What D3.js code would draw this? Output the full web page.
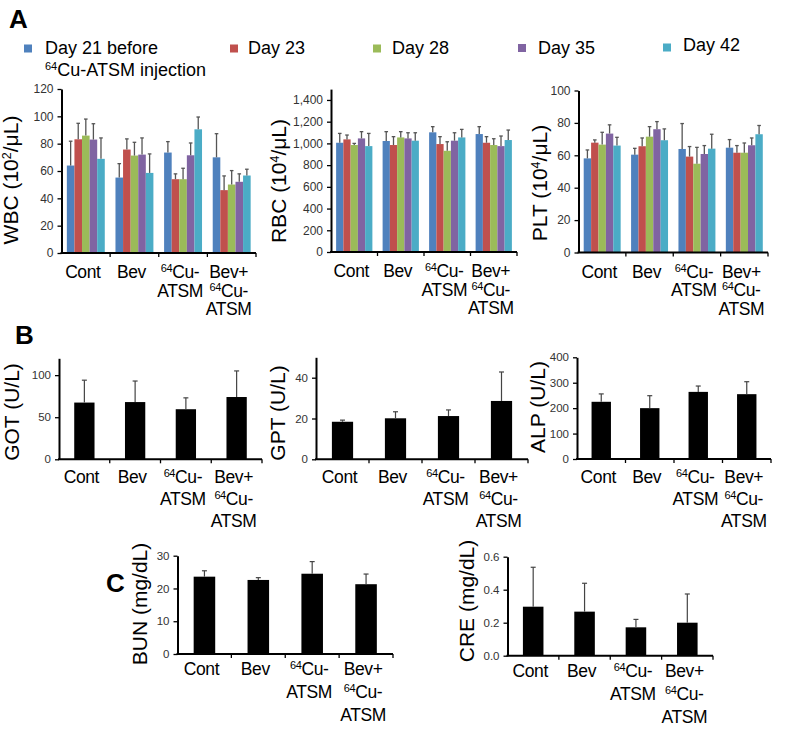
<!DOCTYPE html>
<html>
<head>
<meta charset="utf-8">
<script src="https://cdn.jsdelivr.net/npm/d3@7"></script>
<style>
  html, body { margin: 0; padding: 0; background: #fff; }
  svg { display: block; font-family: Arial, "Liberation Sans", sans-serif; }
</style>
</head>
<body>
<svg id="chart" width="797" height="729"></svg>
<script>
// ---------------- DATA ----------------
const groups = ["Cont", "Bev", "64Cu-ATSM", "Bev+64Cu-ATSM"];
// label lines; {..} marks superscript
const groupLabelLines = [["Cont"], ["Bev"], ["{64}Cu-", "ATSM"], ["Bev+", "{64}Cu-", "ATSM"]];
const days = ["Day 21 before 64Cu-ATSM injection", "Day 23", "Day 28", "Day 35", "Day 42"];
const dayColors = ["#4F81BD", "#C0504D", "#9BBB59", "#8064A2", "#4BACC6"];

// Panel A: rows = groups, columns = days
const wbcMean = [[64.0, 83.2, 85.9, 83.0, 68.9], [55.2, 75.7, 71.3, 72.0, 58.6], [73.5, 54.0, 54.0, 71.5, 90.5], [70.0, 46.0, 50.1, 52.1, 56.7]];
const wbcErr  = [[17.8, 11.7, 12.1, 11.6, 15.3], [10.2, 7.8, 9.7, 12.2, 13.9], [8.0, 3.9, 8.0, 9.0, 9.0], [17.3, 10.4, 10.2, 5.8, 4.6]];
const rbcMean = [[1006, 1037, 985, 1046, 975], [1022, 985, 1055, 1046, 1025], [1102, 994, 932, 1025, 1055], [1086, 1006, 985, 975, 1031]];
const rbcErr  = [[86, 40, 15, 62, 117], [86, 77, 53, 52, 73], [52, 68, 83, 73, 74], [68, 56, 58, 93, 92]];
const pltMean = [[58.1, 67.8, 66.6, 73.4, 66.0], [60.4, 65.6, 71.5, 76.1, 69.3], [63.9, 59.2, 54.8, 60.8, 64.1], [64.7, 61.6, 61.6, 66.2, 73.0]];
const pltErr  = [[5.2, 1.7, 7.6, 5.4, 5.1], [3.9, 5.1, 6.2, 4.7, 7.0], [15.7, 6.2, 10.1, 5.2, 8.9], [5.0, 4.4, 6.0, 4.5, 5.4]];

// Panel B
const gotMean = [67.4, 68.0, 59.5, 74.0];
const gotErr  = [26.6, 25.0, 13.5, 31.0];
const gptMean = [18.4, 20.1, 21.2, 28.6];
const gptErr  = [0.8, 3.2, 3.0, 14.2];
const alpMean = [225, 200, 264, 255];
const alpErr  = [31, 49, 23, 49];
// Panel C
const bunMean = [23.6, 22.6, 24.5, 21.3];
const bunErr  = [1.8, 0.7, 3.7, 3.1];
const creMean = [0.297, 0.267, 0.172, 0.200];
const creErr  = [0.239, 0.172, 0.048, 0.174];

// Tick values
const wbcTicks = [0, 20, 40, 60, 80, 100, 120];
const rbcTicks = [0, 200, 400, 600, 800, 1000, 1200, 1400];
const pltTicks = [0, 20, 40, 60, 80, 100];
const gotTicks = [0, 50, 100];
const gptTicks = [0, 20, 40];
const alpTicks = [0, 100, 200, 300, 400];
const bunTicks = [0, 10, 20, 30];
const creTicks = [0, 0.2, 0.4, 0.6];

// ---------------- DRAWING ----------------
const svg = d3.select("#chart");

function addRich(textSel, str, supSize) {
  const parts = str.split(/(\{[^}]*\})/).filter(s => s.length);
  parts.forEach(p => {
    if (p[0] === "{") {
      textSel.append("tspan").attr("font-size", supSize).attr("baseline-shift", "super").text(p.slice(1, -1));
    } else {
      textSel.append("tspan").text(p);
    }
  });
}

function drawPanel(cfg) {
  const g = svg.append("g");
  const y = d3.scaleLinear().domain([0, cfg.yMax]).range([cfg.bottom, cfg.top]);
  const x = d3.scaleBand().domain(groups).range([cfg.left, cfg.right])
    .paddingInner(cfg.padIn).paddingOuter(cfg.padOut);
  const step = x.step();
  const multi = Array.isArray(cfg.mean[0]);

  groups.forEach((grp, gi) => {
    if (multi) {
      const xs = d3.scaleBand().domain(d3.range(days.length)).range([0, x.bandwidth()]);
      days.forEach((d, si) => {
        const v = cfg.mean[gi][si], e = cfg.err[gi][si];
        const bx = x(grp) + xs(si);
        g.append("rect").attr("x", bx).attr("y", y(v)).attr("width", xs.bandwidth())
          .attr("height", y(0) - y(v)).attr("fill", dayColors[si]);
        const cx = bx + xs.bandwidth() / 2;
        g.append("line").attr("x1", cx).attr("x2", cx).attr("y1", y(v)).attr("y2", y(v + e))
          .attr("stroke", "#555").attr("stroke-width", 1.3);
        g.append("line").attr("x1", cx - 1.8).attr("x2", cx + 1.8).attr("y1", y(v + e)).attr("y2", y(v + e))
          .attr("stroke", "#555").attr("stroke-width", 1.3);
      });
    } else {
      const v = cfg.mean[gi], e = cfg.err[gi];
      g.append("rect").attr("x", x(grp)).attr("y", y(v)).attr("width", x.bandwidth())
        .attr("height", y(0) - y(v)).attr("fill", "#000");
      const cx = x(grp) + x.bandwidth() / 2;
      g.append("line").attr("x1", cx).attr("x2", cx).attr("y1", y(v)).attr("y2", y(v + e))
        .attr("stroke", "#444").attr("stroke-width", 1.2);
      g.append("line").attr("x1", cx - 2.5).attr("x2", cx + 2.5).attr("y1", y(v + e)).attr("y2", y(v + e))
        .attr("stroke", "#444").attr("stroke-width", 1.2);
    }
  });

  const yAxis = d3.axisLeft(y).tickValues(cfg.ticks).tickSizeInner(4).tickSizeOuter(0)
    .tickPadding(4).tickFormat(cfg.fmt || d3.format("d"));
  const ya = g.append("g").attr("transform", `translate(${cfg.left},0)`).call(yAxis);
  ya.select(".domain").attr("stroke", "#000").attr("stroke-width", 2);
  ya.selectAll(".tick line").attr("stroke", "#000").attr("stroke-width", 1.3);
  ya.selectAll(".tick text").attr("font-size", cfg.tickFont).attr("fill", "#333")
    .attr("font-family", "Arial, 'Liberation Sans', sans-serif");

  g.append("line").attr("x1", cfg.left - 1).attr("x2", cfg.right).attr("y1", cfg.bottom).attr("y2", cfg.bottom)
    .attr("stroke", "#000").attr("stroke-width", 2);
  d3.range(1, groups.length + 1).forEach(i => {
    const bx = cfg.left + i * step;
    g.append("line").attr("x1", bx).attr("x2", bx).attr("y1", cfg.bottom).attr("y2", cfg.bottom + 4)
      .attr("stroke", "#000").attr("stroke-width", 1.3);
  });

  groups.forEach((grp, gi) => {
    const cx = x(grp) + x.bandwidth() / 2 - 3;
    groupLabelLines[gi].forEach((ln, li) => {
      const t = g.append("text").attr("x", cx).attr("y", cfg.bottom + cfg.lab0 + li * cfg.labStep)
        .attr("text-anchor", "middle").attr("font-size", 17.5).attr("letter-spacing", -0.4).attr("fill", "#000");
      addRich(t, ln, 11);
    });
  });

  const yl = g.append("text").attr("transform", `translate(${cfg.ylx},${cfg.yly}) rotate(-90)`)
    .attr("text-anchor", "middle").attr("font-size", 21).attr("fill", "#000");
  addRich(yl, cfg.ylabel, 12.5);
}

const A = { padIn: 0.22, padOut: 0.11, tickFont: 12, lab0: 25, labStep: 18.5 };
const BC = { padIn: 0.6, padOut: 0.3, tickFont: 11.5, lab0: 24, labStep: 22 };

drawPanel(Object.assign({}, A, { mean: wbcMean, err: wbcErr, ticks: wbcTicks, yMax: 120,
  left: 61.5, right: 256, bottom: 253, top: 89, ylabel: "WBC (10{2}/μL)", ylx: 18, yly: 180 }));
drawPanel(Object.assign({}, A, { mean: rbcMean, err: rbcErr, ticks: rbcTicks, yMax: 1500, fmt: d3.format(","),
  left: 331, right: 517, bottom: 252, top: 89.1, ylabel: "RBC (10{4}/μL)", ylx: 286, yly: 181 }));
drawPanel(Object.assign({}, A, { mean: pltMean, err: pltErr, ticks: pltTicks, yMax: 100,
  left: 578.5, right: 768, bottom: 252.5, top: 90.5, ylabel: "PLT (10{4}/μL)", ylx: 547, yly: 183 }));

drawPanel(Object.assign({}, BC, { mean: gotMean, err: gotErr, ticks: gotTicks, yMax: 120,
  left: 59, right: 262, bottom: 459.3, top: 358.3, ylabel: "GOT (U/L)", ylx: 19, yly: 412 }));
drawPanel(Object.assign({}, BC, { mean: gptMean, err: gptErr, ticks: gptTicks, yMax: 50,
  left: 316, right: 528, bottom: 459.3, top: 357.3, ylabel: "GPT (U/L)", ylx: 285, yly: 413 }));
drawPanel(Object.assign({}, BC, { mean: alpMean, err: alpErr, ticks: alpTicks, yMax: 400,
  left: 577, right: 771, bottom: 459, top: 357.3, ylabel: "ALP (U/L)", ylx: 545, yly: 407 }));

drawPanel(Object.assign({}, BC, { mean: bunMean, err: bunErr, ticks: bunTicks, yMax: 30, lab0: 21, labStep: 23,
  left: 177.5, right: 393, bottom: 654, top: 555.7, ylabel: "BUN (mg/dL)", ylx: 147, yly: 604 }));
drawPanel(Object.assign({}, BC, { mean: creMean, err: creErr, ticks: creTicks, yMax: 0.6, fmt: d3.format(".1f"), lab0: 21, labStep: 23,
  left: 507.5, right: 713, bottom: 655.7, top: 556.7, ylabel: "CRE (mg/dL)", ylx: 474, yly: 601 }));

// Legend
const legendPos = [
  { sx: 24, sy: 44.5, tx: 45, ty: 53.5 },
  { sx: 230, sy: 44.5, tx: 248, ty: 54 },
  { sx: 373, sy: 44.5, tx: 392, ty: 54 },
  { sx: 518, sy: 44, tx: 538, ty: 54 },
  { sx: 663, sy: 43.5, tx: 683, ty: 51 }
];
const legendLines = [["Day 21 before", "{64}Cu-ATSM injection"], ["Day 23"], ["Day 28"], ["Day 35"], ["Day 42"]];
days.forEach((d, i) => {
  const p = legendPos[i];
  svg.append("rect").attr("x", p.sx).attr("y", p.sy).attr("width", 8).attr("height", 8).attr("fill", dayColors[i]);
  legendLines[i].forEach((ln, li) => {
    const t = svg.append("text").attr("x", p.tx).attr("y", p.ty + li * 22.5).attr("font-size", 18).attr("fill", "#000");
    addRich(t, ln, 11);
  });
});

// Panel letters
[["A", 9, 28], ["B", 15, 344], ["C", 106, 592]].forEach(([l, x, y]) => {
  svg.append("text").attr("x", x).attr("y", y).attr("font-size", 26).attr("font-weight", "bold").attr("fill", "#000").text(l);
});
</script>
</body>
</html>
